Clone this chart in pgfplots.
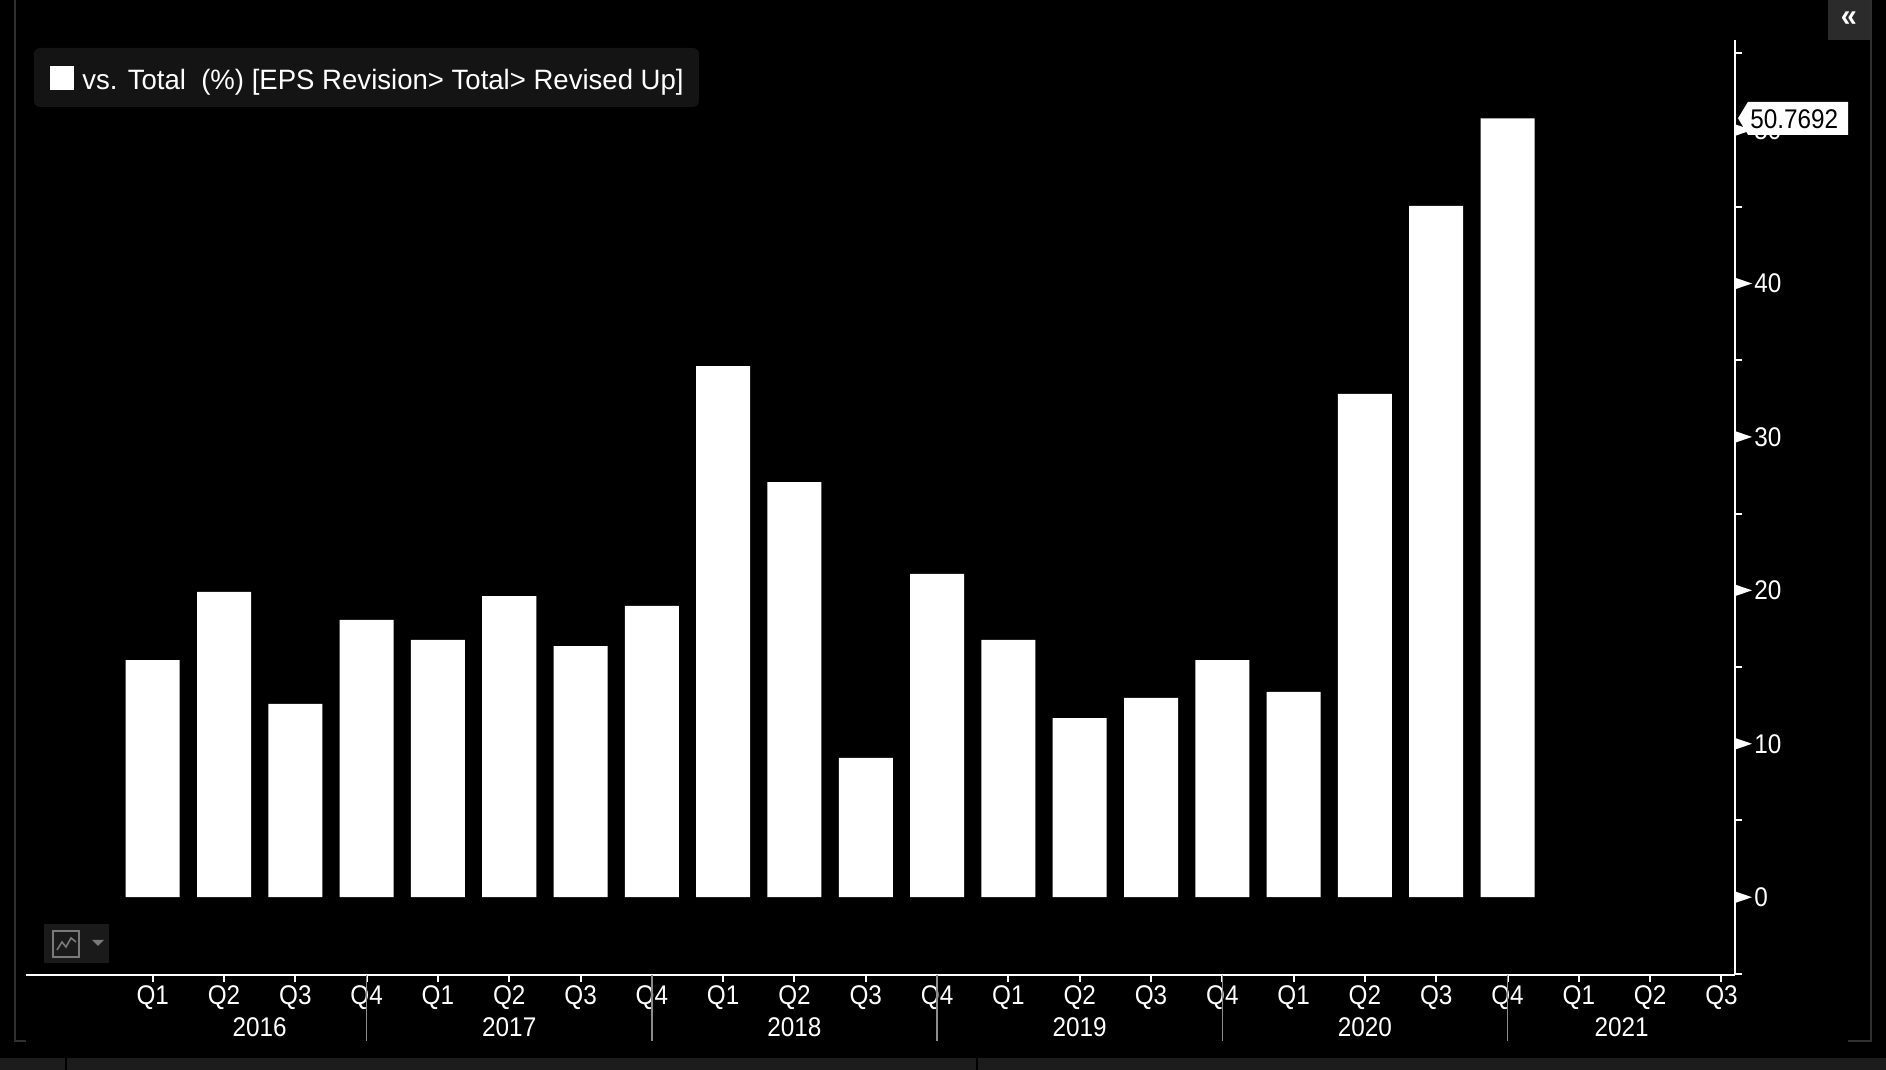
\documentclass[border=0pt]{standalone}
\usepackage{pgfplots}
\usepackage{pgfplotstable}
\pgfplotsset{compat=1.18}
\usepackage{fontspec}
\setmainfont{Liberation Sans}[FakeStretch=0.9]
\newfontfamily\legfont{Liberation Sans}[FakeStretch=0.984]
\definecolor{leggray}{HTML}{141414}
\definecolor{stripgray}{HTML}{1C1C1C}
\definecolor{framegray}{HTML}{303030}
\definecolor{sepgray}{HTML}{8C8C8C}
\definecolor{btngray}{HTML}{2B2B2B}
\definecolor{iconbox}{HTML}{1A1A1A}
\definecolor{iconline}{HTML}{7A7A7A}

\pgfplotstableread{
idx val
0 15.46
1 19.90
2 12.60
3 18.07
4 16.77
5 19.63
6 16.37
7 18.98
8 34.62
9 27.06
10 9.08
11 21.07
12 16.77
13 11.68
14 12.99
15 15.46
16 13.38
17 32.80
18 45.06
19 50.7692
}\datatable

\newcommand{\tfont}{\fontsize{13.5bp}{16bp}\selectfont}

\begin{document}
\begin{tikzpicture}
% background and frame (pixel coordinates of the 1886x1070 canvas)
\begin{scope}[x=0.5bp,y=-0.5bp,shift={(0,535bp)}]
  \fill[black] (0,0) rectangle (1886,1070);
  \fill[stripgray] (0,1058) rectangle (1886,1070);
  \fill[black] (65,1058) rectangle (67,1070);
  \fill[black] (976,1058) rectangle (978,1070);
  \draw[framegray,line width=1bp] (15,0) -- (15,1041) -- (26,1041);
  \draw[framegray,line width=1bp] (1871,0) -- (1871,1041) -- (1848,1041);
  % collapse button
  \fill[btngray] (1828,0) rectangle (1870,40);
  \node[white,inner sep=0,font=\fontsize{16bp}{18bp}\selectfont\bfseries] at (1849,19) {«};
  % chart type icon
  \fill[iconbox] (44,924) rectangle (109,963);
  \draw[iconline,line width=1bp] (53,931) rectangle (79,957);
  \draw[iconline,line width=0.8bp] (57,950) -- (62,942) -- (66,947) -- (71,938) -- (76,942);
  \fill[iconline] (92,940) -- (104,940) -- (98,946) -- cycle;
  % legend
  \fill[leggray,rounded corners=3bp] (34,48) rectangle (699,107);
  \fill[white] (50,66) rectangle (74,90);
  \node[anchor=base west,inner sep=0,white,font=\legfont\fontsize{14bp}{16bp}\selectfont] at (82,90) {vs. Total\ \ (\%) [EPS Revision> Total> Revised Up]};
\end{scope}

\begin{axis}[
  at={(13bp,47.5bp)}, anchor=south west,
  scale only axis, width=854.5bp, height=467.5bp,
  xmin=-1.777, xmax=22.19, ymin=-5.07, ymax=55.87,
  axis x line=bottom, axis y line=right,
  every outer x axis line/.append style={-},
  every outer y axis line/.append style={-},
  every inner x axis line/.append style={-},
  every inner y axis line/.append style={-},
  axis line style={white,line width=1bp},
  tick style={white,line width=1bp},
  tick align=outside,
  major tick length=3.5bp, minor tick length=3.5bp,
  xtick={0,...,22},
  xticklabels={Q1,Q2,Q3,Q4,Q1,Q2,Q3,Q4,Q1,Q2,Q3,Q4,Q1,Q2,Q3,Q4,Q1,Q2,Q3,Q4,Q1,Q2,Q3},
  ytick={0,10,...,50},
  minor ytick={-5,5,...,55},
  /pgf/number format/assume math mode=true,
  tick label style={white,font=\tfont,inner sep=0pt},
  xticklabel style={anchor=base,yshift=-11bp},
  yticklabel style={anchor=west,xshift=6bp},
  clip=false,
]
\addplot[ybar,bar width=27bp,fill=white,draw=none] table[x=idx,y=val]{\datatable};

\pgfplotsinvokeforeach{0,10,20,30,40,50}{
  \fill[white] ([yshift=2.9bp]axis cs:22.19,#1) -- ([xshift=8.5bp]axis cs:22.19,#1) -- ([yshift=-2.9bp]axis cs:22.19,#1) -- cycle;
}
\pgfplotsinvokeforeach{3,7,11,15,19}{
  \draw[sepgray,line width=0.7bp] (axis cs:#1,-5.07) -- ([yshift=-33bp]axis cs:#1,-5.07);
}
\node[anchor=base,white,inner sep=0,font=\tfont,yshift=-30.5bp] at (axis cs:1.5,-5.07) {2016};
\node[anchor=base,white,inner sep=0,font=\tfont,yshift=-30.5bp] at (axis cs:5,-5.07) {2017};
\node[anchor=base,white,inner sep=0,font=\tfont,yshift=-30.5bp] at (axis cs:9,-5.07) {2018};
\node[anchor=base,white,inner sep=0,font=\tfont,yshift=-30.5bp] at (axis cs:13,-5.07) {2019};
\node[anchor=base,white,inner sep=0,font=\tfont,yshift=-30.5bp] at (axis cs:17,-5.07) {2020};
\node[anchor=base,white,inner sep=0,font=\tfont,yshift=-30.5bp] at (axis cs:20.6,-5.07) {2021};
\coordinate (vtip) at (axis cs:22.19,50.7692);
\end{axis}

% last-value tag
\fill[white] (vtip) ++(1.5bp,0) -- ++(5bp,8.25bp) -- ++(50bp,0) -- ++(0,-16.5bp) -- ++(-50bp,0) -- cycle;
\node[anchor=base west,inner sep=0,black,font=\tfont,xshift=7.5bp,yshift=-5bp] at (vtip) {50.7692};

\pgfresetboundingbox
\useasboundingbox (0,0) rectangle (943bp,535bp);
\end{tikzpicture}
\end{document}
